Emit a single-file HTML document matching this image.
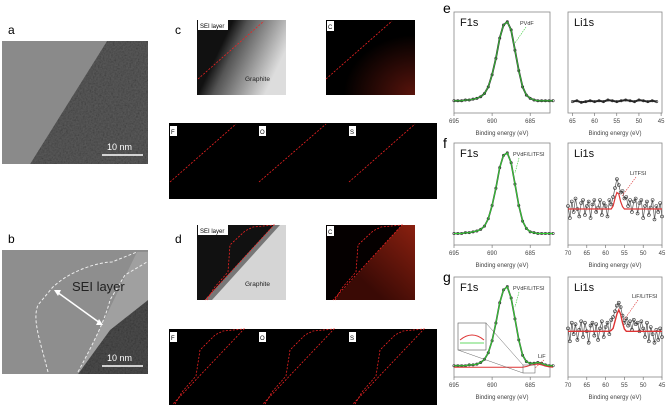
<!DOCTYPE html>
<html><head><meta charset="utf-8"><style>
body{margin:0;background:#fff;}
svg{display:block;font-family:"Liberation Sans",sans-serif;}
</style></head><body>
<svg id="fig" width="667" height="407" viewBox="0 0 667 407" xmlns="http://www.w3.org/2000/svg">
<defs>
<filter id="tex" x="0" y="0" width="1" height="1"><feTurbulence type="fractalNoise" baseFrequency="0.6" numOctaves="2" result="n"/><feColorMatrix type="saturate" values="0"/><feComposite in2="SourceGraphic" operator="in"/><feBlend in="SourceGraphic" mode="multiply"/></filter>
<linearGradient id="gc" x1="0" y1="0" x2="1" y2="0.4"><stop offset="0.35" stop-color="#111"/><stop offset="0.5" stop-color="#555"/><stop offset="1" stop-color="#ddd"/></linearGradient>
<radialGradient id="rc" cx="1" cy="1" r="0.8"><stop offset="0" stop-color="#5a140c"/><stop offset="1" stop-color="#000"/></radialGradient>
<linearGradient id="rd" x1="1" y1="0" x2="0" y2="1"><stop offset="0" stop-color="#8a2010"/><stop offset="0.7" stop-color="#3a0a05"/></linearGradient>
</defs>
<text x="8" y="34" font-size="12">a</text>
<g>
<rect x="2" y="41" width="146" height="123" fill="#8a8a8a"/>
<polygon points="107,41 148,41 148,164 30,164" fill="#5c5c5c" filter="url(#tex)"/>
<line x1="102" y1="155" x2="143" y2="155" stroke="#fff" stroke-width="1.5"/>
<text x="107" y="150" font-size="9" fill="#fff">10 nm</text>
</g>
<text x="8" y="243" font-size="12">b</text>
<g>
<rect x="2" y="250" width="146" height="124" fill="#8e8e8e"/>
<polygon points="137,252 148,252 148,374 78,374" fill="#a0a0a0"/>
<polygon points="148,300 148,374 78,374 110,330" fill="#4e4e4e" filter="url(#tex)"/>
<path d="M48,372 C40,340 32,320 38,305 L52,288 C70,270 100,262 112,262 L137,252" fill="none" stroke="#eee" stroke-width="1" stroke-dasharray="3,2"/>
<path d="M78,372 C95,340 105,320 110,300 L125,275 L147,262" fill="none" stroke="#eee" stroke-width="1" stroke-dasharray="3,2"/>
<text x="72" y="291" font-size="13" fill="#222">SEI layer</text>
<line x1="57" y1="292" x2="100" y2="323" stroke="#fff" stroke-width="1.5"/>
<polygon points="54,290 61,290 58,296" fill="#fff"/><polygon points="103,325 96,325 99,319" fill="#fff"/>
<line x1="102" y1="366" x2="143" y2="366" stroke="#fff" stroke-width="1.5"/>
<text x="107" y="361" font-size="9" fill="#fff">10 nm</text>
</g>
<text x="175" y="34" font-size="12">c</text>
<g>
<rect x="197" y="20" width="89" height="75" fill="url(#gc)"/>
<line x1="198" y1="79" x2="264" y2="21" stroke="#e22" stroke-dasharray="2,1.5" stroke-width="0.8"/>
<rect x="198" y="20" width="30" height="10" fill="#fff"/><text x="200" y="28" font-size="6">SEI layer</text>
<text x="245" y="81" font-size="6.5" fill="#222">Graphite</text>
</g>
<g>
<rect x="326" y="20" width="89" height="75" fill="url(#rc)"/>
<line x1="326" y1="79" x2="392" y2="21" stroke="#e22" stroke-dasharray="2,1.5" stroke-width="0.8"/>
<rect x="327" y="21" width="7" height="10" fill="#fff"/><text x="328" y="29" font-size="6">C</text>
</g>
<g>
<rect x="169" y="123" width="268" height="76" fill="#000"/>
<line x1="170" y1="182" x2="236" y2="124" stroke="#e22" stroke-dasharray="2,1.5" stroke-width="0.8"/>
<line x1="259" y1="182" x2="326" y2="124" stroke="#e22" stroke-dasharray="2,1.5" stroke-width="0.8"/>
<line x1="349" y1="182" x2="415" y2="124" stroke="#e22" stroke-dasharray="2,1.5" stroke-width="0.8"/>
<rect x="170" y="126" width="7" height="10" fill="#fff"/><text x="171" y="134" font-size="6">F</text>
<rect x="259" y="126" width="7" height="10" fill="#fff"/><text x="260" y="134" font-size="6">O</text>
<rect x="349" y="126" width="7" height="10" fill="#fff"/><text x="350" y="134" font-size="6">S</text>
</g>
<text x="175" y="243" font-size="12">d</text>
<g>
<rect x="197" y="225" width="89" height="75" fill="#d5d5d5"/>
<polygon points="197,225 274,225 205,300 197,300" fill="#111"/>
<polygon points="274,225 280,225 212,300 205,300" fill="#777"/>
<path d="M207,300 L214,288 L228,272 L230,245 L245,231 L253,227 L274,225 L205,300" fill="none" stroke="#e22" stroke-dasharray="2,1.5" stroke-width="0.8"/>
<rect x="198" y="225" width="30" height="10" fill="#fff"/><text x="200" y="233" font-size="6">SEI layer</text>
<text x="245" y="286" font-size="6.5" fill="#222">Graphite</text>
</g>
<g>
<rect x="326" y="225" width="89" height="75" fill="#050000"/>
<polygon points="402,225 415,225 415,300 334,300" fill="url(#rd)"/>
<path d="M335,300 L342,288 L356,272 L358,245 L373,231 L381,227 L402,225 L333,300" fill="none" stroke="#e22" stroke-dasharray="2,1.5" stroke-width="0.8"/>
<rect x="327" y="226" width="7" height="10" fill="#fff"/><text x="328" y="234" font-size="6">C</text>
</g>
<g>
<rect x="169" y="329" width="268" height="76" fill="#000"/>
<path d="M175,404 L182,392 L196,376 L200,350 L215,335 L223,331 L244,329 L173,404" fill="none" stroke="#e22" stroke-dasharray="2,1.5" stroke-width="0.8"/>
<path d="M265,404 L272,392 L286,376 L290,350 L305,335 L313,331 L334,329 L263,404" fill="none" stroke="#e22" stroke-dasharray="2,1.5" stroke-width="0.8"/>
<path d="M355,404 L362,392 L376,376 L380,350 L395,335 L403,331 L424,329 L353,404" fill="none" stroke="#e22" stroke-dasharray="2,1.5" stroke-width="0.8"/>
<rect x="170" y="332" width="7" height="10" fill="#fff"/><text x="171" y="340" font-size="6">F</text>
<rect x="259" y="332" width="7" height="10" fill="#fff"/><text x="260" y="340" font-size="6">O</text>
<rect x="349" y="332" width="7" height="10" fill="#fff"/><text x="350" y="340" font-size="6">S</text>
</g>
<text x="443" y="13" font-size="14">e</text>
<text x="443" y="148" font-size="14">f</text>
<text x="443" y="282" font-size="14">g</text>
<g id="plots"></g>
</svg>
<script>
const f1sEnergy = [695,694.5,694,693.5,693,692.5,692,691.5,691,690.5,690,689.5,689,688.5,688,687.5,687,686.5,686,685.5,685,684.5,684,683.5,683,682.5,682];
const f1sE = [0.03,0.03,0.03,0.04,0.04,0.05,0.06,0.08,0.12,0.2,0.35,0.55,0.8,0.96,1.0,0.9,0.65,0.4,0.2,0.1,0.06,0.04,0.03,0.03,0.03,0.03,0.03];
const f1sF = [0.02,0.02,0.02,0.03,0.03,0.04,0.05,0.07,0.11,0.2,0.36,0.57,0.82,0.97,1.0,0.88,0.62,0.36,0.17,0.08,0.04,0.03,0.02,0.02,0.02,0.02,0.02];
const f1sG = [0.02,0.02,0.02,0.02,0.03,0.03,0.04,0.06,0.1,0.18,0.33,0.55,0.8,0.96,1.0,0.86,0.6,0.34,0.15,0.07,0.05,0.05,0.06,0.05,0.03,0.02,0.02];
const lifFit = [0,0,0,0,0,0,0,0,0,0,0,0,0,0,0,0,0,0,0,0.01,0.025,0.035,0.04,0.03,0.015,0.005,0];
const li1sEnergyE = [65,64,63,62,61,60,59,58,57,56,55,54,53,52,51,50,49,48,47,46];
const li1sE = [0.02,0.03,0.01,0.02,0.03,0.02,0.03,0.02,0.04,0.03,0.02,0.03,0.04,0.03,0.02,0.04,0.03,0.02,0.03,0.02];
const li1sEnergyFG = [70,69.5,69,68.5,68,67.5,67,66.5,66,65.5,65,64.5,64,63.5,63,62.5,62,61.5,61,60.5,60,59.5,59,58.5,58,57.5,57,56.5,56,55.5,55,54.5,54,53.5,53,52.5,52,51.5,51,50.5,50,49.5,49,48.5,48,47.5,47,46.5,46,45.5,45];
const li1sF = [0.1,-0.3,0.25,-0.1,0.35,0.0,-0.25,0.2,0.3,-0.2,0.1,0.25,-0.3,0.15,0.3,-0.1,0.05,0.3,-0.2,0.2,0.1,-0.25,0.3,0.15,0.4,0.7,1.0,0.8,0.55,0.6,0.35,0.4,0.1,0.3,-0.1,0.25,0.35,-0.15,0.2,0.3,-0.3,0.1,0.25,-0.2,0.05,0.3,-0.35,0.1,-0.1,0.2,-0.25];
const li1sFfit = [0,0,0,0,0,0,0,0,0,0,0,0,0,0,0,0,0,0,0,0,0,0,0,0,0.1,0.35,0.55,0.5,0.25,0.08,0,0,0,0,0,0,0,0,0,0,0,0,0,0,0,0,0,0,0,0,0];
const li1sG = [0.1,-0.35,0.3,-0.1,0.25,-0.3,0.05,0.35,-0.2,0.3,0.0,-0.4,0.2,0.3,-0.15,0.25,-0.3,0.1,0.35,-0.2,0.15,0.3,-0.1,0.4,0.5,0.7,0.9,1.0,0.85,0.55,0.3,0.45,0.2,0.35,0.05,0.4,0.25,0.3,0.0,0.35,0.1,-0.2,0.3,-0.35,0.15,-0.1,-0.4,0.05,-0.3,0.1,-0.2];
const li1sGfit = [0,0,0,0,0,0,0,0,0,0,0,0,0,0,0,0,0,0,0,0,0,0,0,0.03,0.1,0.35,0.6,0.75,0.6,0.3,0.08,0,0,0,0,0,0,0,0,0,0,0,0,0,0,0,0,0,0,0,0];
const f1sTicks = [695,690,685];
const li1sTicksE = [65,60,55,50,45];
const li1sTicksFG = [70,65,60,55,50,45];

const NS='http://www.w3.org/2000/svg';
const root=document.getElementById('plots');
function mk(tag,attrs,parent){const e=document.createElementNS(NS,tag);for(const k in attrs)e.setAttribute(k,attrs[k]);(parent||root).appendChild(e);return e;}
function panel(name,box,xmin,xmax,ymin,ymax,ticks,title){
  const g=mk('g',{});
  
  
  const sx=v=>box.x+(xmin-v)/(xmin-xmax)*box.w;
  const sy=v=>box.y+box.h-(v-ymin)/(ymax-ymin)*box.h;
  const r=mk('rect',{x:box.x,y:box.y,width:box.w,height:box.h,fill:'none',stroke:'#888','stroke-width':0.8},g);
  
  
  ticks.forEach(t=>{
    mk('line',{x1:sx(t),x2:sx(t),y1:box.y+box.h,y2:box.y+box.h+3,stroke:'#666','stroke-width':0.6},g);
    const tl=mk('text',{x:sx(t),y:box.y+box.h+10,'font-size':6,'text-anchor':'middle',fill:'#444'},g);
    tl.textContent=t;
    
    
  });
  const xl=mk('text',{x:box.x+box.w/2,y:box.y+box.h+22,'font-size':6,'text-anchor':'middle',fill:'#444'},g);
  xl.textContent='Binding energy (eV)';
  
  
  const tt=mk('text',{x:box.x+6,y:box.y+14,'font-size':11,fill:'#111'},g);
  tt.textContent=title;
  
  
  return {g,sx,sy};
}
function series(p,xs,ys,color,w,name,markers,mr){
  const d=xs.map((x,i)=>(i?'L':'M')+p.sx(x).toFixed(1)+','+p.sy(ys[i]).toFixed(1)).join(' ');
  const pa=mk('path',{d,fill:'none',stroke:color,'stroke-width':w},p.g);
  
  
  if(markers){xs.forEach((x,i)=>{
    const c=mk('circle',{cx:p.sx(x),cy:p.sy(ys[i]),r:mr||1.2,fill:'none',stroke:'#333','stroke-width':0.6},p.g);
    
    
  });}
}
function note(p,x,y,txt,x2,y2,color){
  const t=mk('text',{x,y,'font-size':5.5,fill:'#333'},p.g);t.textContent=txt;
  
  
  mk('line',{x1:x+6,y1:y+2,x2:x2,y2:y2,stroke:color,'stroke-width':0.6,'stroke-dasharray':'1.5,1'},p.g);
}
let p=panel('f1s-plot-e',{x:454,y:12,w:96,h:101},695,682.4,-0.12,1.12,f1sTicks,'F1s');
series(p,f1sEnergy,f1sE,'#333',1.8,'f1s-data-e',true);series(p,f1sEnergy,f1sE,'#3c3',0.8,'f1s-fit-e');
note(p,520,25,'PVdF',515,43,'#3c3');
p=panel('li1s-plot-e',{x:568,y:12,w:94,h:101},66,44.8,-0.12,1.12,li1sTicksE,'Li1s');
series(p,li1sEnergyE,li1sE,'#222',2,'li1s-data-e',true);
p=panel('f1s-plot-f',{x:454,y:143,w:96,h:102},695,682.4,-0.12,1.12,f1sTicks,'F1s');
series(p,f1sEnergy,f1sF,'#333',1.6,'f1s-data-f',true);series(p,f1sEnergy,f1sF,'#3c3',1,'f1s-fit-f');
note(p,513,156,'PVdF/LiTFSI',515,173,'#3c3');
p=panel('li1s-plot-f',{x:568,y:143,w:94,h:102},70,45,-1.2,2.2,li1sTicksFG,'Li1s');
series(p,li1sEnergyFG,li1sF,'#555',0.7,'li1s-data-f',true,1.5);series(p,li1sEnergyFG,li1sFfit,'#d33',1.2,'li1s-fit-f');
note(p,630,175,'LiTFSI',622,196,'#d33');
p=panel('f1s-plot-g',{x:454,y:277,w:96,h:100},695,682.4,-0.12,1.12,f1sTicks,'F1s');
series(p,f1sEnergy,f1sG,'#333',1.6,'f1s-data-g',true);series(p,f1sEnergy,f1sG,'#3c3',1,'f1s-fit-g');
series(p,f1sEnergy,lifFit,'#d33',1,'lif-fit-g');
note(p,513,290,'PVdF/LiTFSI',515,307,'#3c3');note(p,538,358,'LiF',535,368,'#d33');
mk('rect',{x:458,y:323,width:28,height:27,fill:'#fff',stroke:'#555','stroke-width':0.6},p.g);
mk('path',{d:'M460,340 Q472,330 484,340',fill:'none',stroke:'#d33','stroke-width':0.9},p.g);
mk('line',{x1:460,y1:343,x2:484,y2:343,stroke:'#3c3','stroke-width':0.8},p.g);
mk('rect',{x:523,y:365,width:12,height:8,fill:'none',stroke:'#555','stroke-width':0.5},p.g);
mk('line',{x1:486,y1:323,x2:523,y2:365,stroke:'#666','stroke-width':0.5},p.g);
mk('line',{x1:458,y1:350,x2:523,y2:373,stroke:'#666','stroke-width':0.5},p.g);
p=panel('li1s-plot-g',{x:568,y:277,w:94,h:100},70,45,-1.6,1.9,li1sTicksFG,'Li1s');
series(p,li1sEnergyFG,li1sG,'#555',0.7,'li1s-data-g',true,1.5);series(p,li1sEnergyFG,li1sGfit,'#d33',1.4,'li1s-fit-g');
note(p,632,298,'LiF/LiTFSI',624,320,'#d33');
</script>
</body></html>
